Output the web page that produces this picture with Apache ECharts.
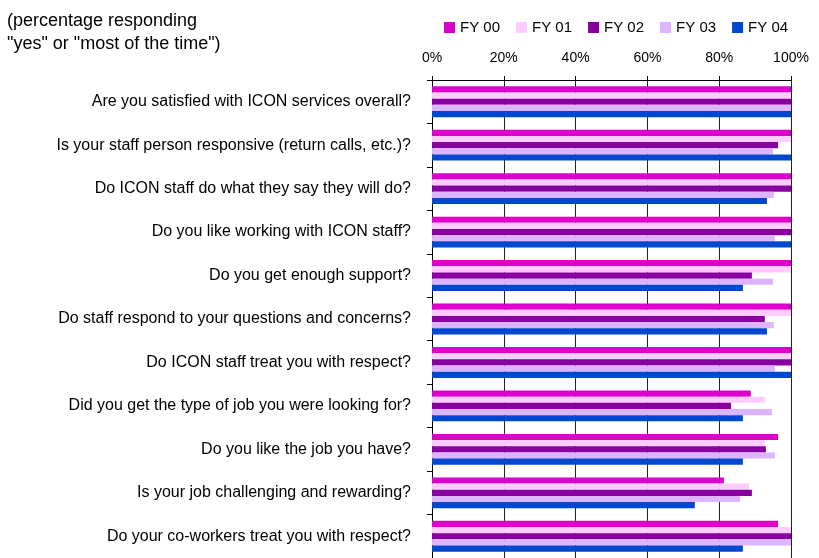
<!DOCTYPE html>
<html>
<head>
<meta charset="utf-8">
<script src="https://cdn.jsdelivr.net/npm/echarts@6/dist/echarts.min.js"></script>
<style>html,body{margin:0;padding:0;background:#fff}#c{width:819px;height:558px}</style>
</head>
<body>
<div id="c"></div>
<script>
var categories = [
  "Are you satisfied with ICON services overall?",
  "Is your staff person responsive (return calls, etc.)?",
  "Do ICON staff do what they say they will do?",
  "Do you like working with ICON staff?",
  "Do you get enough support?",
  "Do staff respond to your questions and concerns?",
  "Do ICON staff treat you with respect?",
  "Did you get the type of job you were looking for?",
  "Do you like the job you have?",
  "Is your job challenging and rewarding?",
  "Do your co-workers treat you with respect?"
];
var seriesNames = ["FY 00", "FY 01", "FY 02", "FY 03", "FY 04"];
var fy00 = [100, 100, 100, 100, 100, 100, 100, 88.8, 96.4, 81.3, 96.4];
var fy01 = [100, 100, 100, 100, 100, 100, 100, 92.7, 92.7, 88.3, 100];
var fy02 = [100, 96.4, 100, 100, 89.1, 92.7, 100, 83.3, 93.0, 89.1, 100];
var fy03 = [100, 95.0, 95.2, 95.5, 95.0, 95.2, 95.5, 94.7, 95.5, 85.8, 100];
var fy04 = [100, 100, 93.3, 100, 86.6, 93.3, 100, 86.6, 86.6, 73.2, 86.6];
var xTicks = [0, 20, 40, 60, 80, 100];
var colors = ["#dd00cc", "#ffccff", "#8800a0", "#ddb4ff", "#0048d0"];
var allData = [fy00, fy01, fy02, fy03, fy04];

var font = "'Liberation Sans', Arial, sans-serif";
var chart = echarts.init(document.getElementById('c'));
chart.setOption({
  animation: false,
  backgroundColor: '#fff',
  title: {
    text: '(percentage responding\n"yes" or "most of the time")',
    left: 7, top: 10, padding: 0,
    textStyle: {fontFamily: font, fontSize: 18, fontWeight: 'normal', color: '#000', lineHeight: 23}
  },
  legend: {
    data: seriesNames,
    left: 439, top: 15,
    itemWidth: 11, itemHeight: 11, itemGap: 16,
    icon: 'rect',
    textStyle: {fontFamily: font, fontSize: 15, color: '#000'}
  },
  grid: {left: 432, right: 28, top: 80, height: 480, containLabel: false},
  xAxis: {
    type: 'value', position: 'top', min: 0, max: 100, interval: 20,
    axisLine: {show: true, lineStyle: {color: '#000', width: 1}},
    axisTick: {show: true, length: 4, lineStyle: {color: '#000'}},
    axisLabel: {formatter: function(v){ return xTicks.indexOf(v) >= 0 ? v + '%' : ''; }, margin: 15,
      fontFamily: font, fontSize: 14, color: '#000'},
    splitLine: {show: true, lineStyle: {color: '#222', width: 1}}
  },
  yAxis: {
    type: 'category', inverse: true, data: categories,
    axisLine: {show: true, lineStyle: {color: '#000', width: 1}},
    axisTick: {show: true, length: 5, lineStyle: {color: '#000'}},
    axisLabel: {margin: 21, fontFamily: font, fontSize: 16, color: '#000', padding: [5, 0, 0, 0]}
  },
  series: seriesNames.map(function(n, i){
    return {
      name: n, type: 'bar', data: allData[i],
      barGap: '0%', barCategoryGap: '29%',
      itemStyle: {color: colors[i]}
    };
  })
});
</script>
</body>
</html>
